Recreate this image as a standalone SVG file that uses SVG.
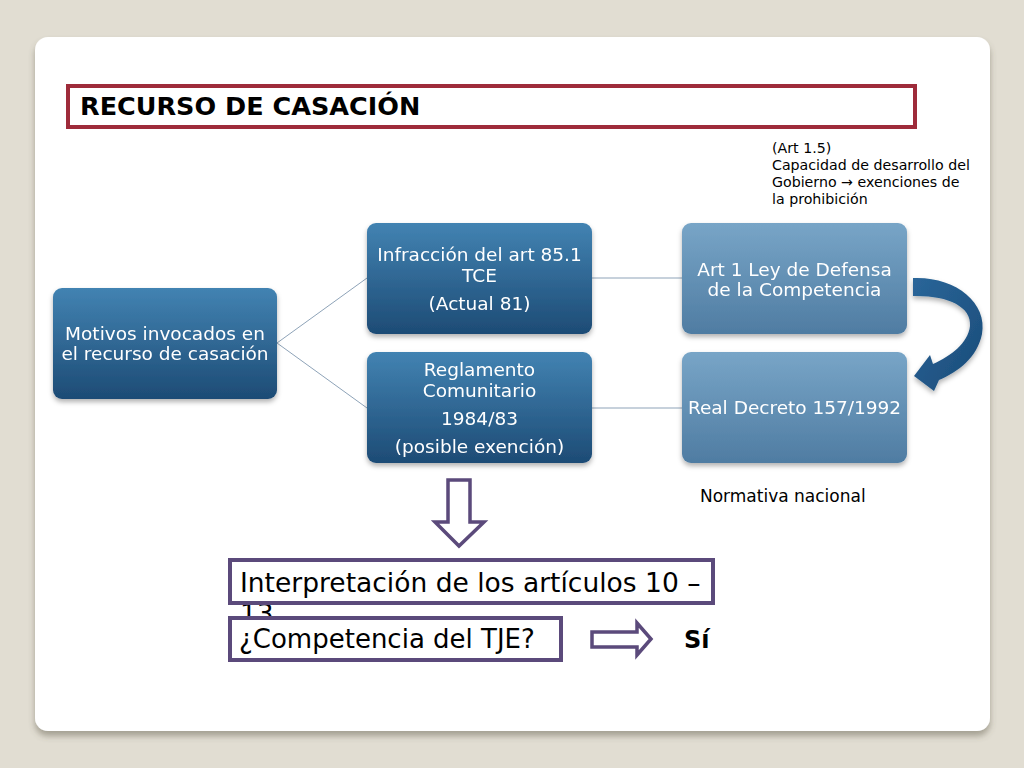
<svg xmlns="http://www.w3.org/2000/svg" width="1024" height="768" viewBox="0 0 1024 768">
<defs>
<linearGradient id="gDark" x1="0" y1="0" x2="0" y2="1">
<stop offset="0" stop-color="#4283b2"/>
<stop offset="1" stop-color="#1d4b75"/>
</linearGradient>
<linearGradient id="gLight" x1="0" y1="0" x2="0" y2="1">
<stop offset="0" stop-color="#78a5c7"/>
<stop offset="1" stop-color="#4f7ca2"/>
</linearGradient>
<linearGradient id="gArrow" x1="0" y1="0" x2="1" y2="1">
<stop offset="0" stop-color="#2a6699"/>
<stop offset="1" stop-color="#1a4a78"/>
</linearGradient>
<filter id="sh" x="-10%" y="-10%" width="120%" height="130%">
<feDropShadow dx="0" dy="3" stdDeviation="2.5" flood-color="#000" flood-opacity="0.3"/>
</filter>
<filter id="cardsh" x="-5%" y="-5%" width="110%" height="115%">
<feDropShadow dx="0" dy="5" stdDeviation="3" flood-color="#5a5646" flood-opacity="0.45"/>
</filter>
<style>
.node{filter:url(#sh)}
.t{font-family:"DejaVu Sans",Verdana,sans-serif;fill:#fff;font-size:18.5px;text-anchor:middle}
.blk{font-family:"DejaVu Sans",Verdana,sans-serif;fill:#000}
.pbox{fill:#fff;stroke:#5b4a7b;stroke-width:4}
.conn{stroke:#8ea3b8;stroke-width:1;fill:none}
.hollow{fill:#fff;stroke:#5b4a7b;stroke-width:3.5;stroke-linejoin:miter}
</style>
</defs>
<rect width="1024" height="768" fill="#e1ddd2"/>
<rect x="35" y="37" width="955" height="694" rx="13" fill="#fff" filter="url(#cardsh)"/>

<g id="title">
<rect x="68" y="86" width="847" height="41" fill="#fff" stroke="#9e2b3a" stroke-width="4"/>
<text class="blk" x="80" y="115" font-size="25.5" font-weight="bold">RECURSO DE CASACIÓN</text>
</g>

<g id="note-art15">
<text class="blk" font-size="14.2"><tspan x="772" y="153">(Art 1.5)</tspan><tspan x="772" y="170">Capacidad de desarrollo del</tspan><tspan x="772" y="187">Gobierno → exenciones de</tspan><tspan x="772" y="204">la prohibición</tspan></text>
</g>

<g id="connectors">
<line class="conn" x1="277" y1="343" x2="367" y2="278"/>
<line class="conn" x1="277" y1="343" x2="367" y2="408"/>
<line class="conn" x1="592" y1="278" x2="682" y2="278"/>
<line class="conn" x1="592" y1="408" x2="682" y2="408"/>
</g>

<g id="motivos" class="node">
<rect x="53" y="288" width="224" height="111" rx="9" fill="url(#gDark)"/>
<text class="t"><tspan x="165" y="340">Motivos invocados en</tspan><tspan x="165" y="360">el recurso de casación</tspan></text>
</g>

<g id="infraccion" class="node">
<rect x="367" y="223" width="225" height="111" rx="9" fill="url(#gDark)"/>
<text class="t"><tspan x="479.5" y="261">Infracción del art 85.1</tspan><tspan x="479.5" y="282">TCE</tspan><tspan x="479.5" y="310">(Actual 81)</tspan></text>
</g>

<g id="reglamento" class="node">
<rect x="367" y="352" width="225" height="111" rx="9" fill="url(#gDark)"/>
<text class="t"><tspan x="479.5" y="376">Reglamento</tspan><tspan x="479.5" y="397">Comunitario</tspan><tspan x="479.5" y="425">1984/83</tspan><tspan x="479.5" y="453">(posible exención)</tspan></text>
</g>

<g id="art1" class="node">
<rect x="682" y="223" width="225" height="111" rx="9" fill="url(#gLight)"/>
<text class="t"><tspan x="794.5" y="276">Art 1 Ley de Defensa</tspan><tspan x="794.5" y="296">de la Competencia</tspan></text>
</g>

<g id="realdecreto" class="node">
<rect x="682" y="352" width="225" height="111" rx="9" fill="url(#gLight)"/>
<text class="t"><tspan x="794.5" y="414">Real Decreto 157/1992</tspan></text>
</g>

<g id="curved-arrow">
<path d="M913,278 C954,276 988,302 982,334 C977,358 958,372 939,380 L934,391 L914,376 L930,355 L933,364 C951,356 968,343 970,326 C972,306 946,295 913,296 Z" fill="url(#gArrow)" filter="url(#sh)"/>
</g>

<g id="normativa">
<text class="blk" x="700" y="502" font-size="17">Normativa nacional</text>
</g>

<g id="down-arrow">
<path class="hollow" d="M448,480 L470,480 L470,522 L484,522 L459,546 L435,522 L448,522 Z"/>
</g>

<g id="interpretacion">
<text class="blk" x="240" y="592" font-size="26.5">Interpretación de los artículos 10 –<tspan x="240" y="623">13</tspan></text>
<rect class="pbox" x="230" y="560" width="483" height="43" style="fill:none"/>
</g>

<g id="competencia">
<rect class="pbox" x="230" y="618" width="331" height="42"/>
<text class="blk" x="239" y="648" font-size="26">¿Competencia del TJE?</text>
</g>

<g id="right-arrow">
<path class="hollow" d="M592,632 L637,632 L637,623 L651,639 L637,655 L637,647 L592,647 Z"/>
</g>

<g id="si">
<text class="blk" x="684" y="648" font-size="24" font-weight="bold">Sí</text>
</g>
</svg>
